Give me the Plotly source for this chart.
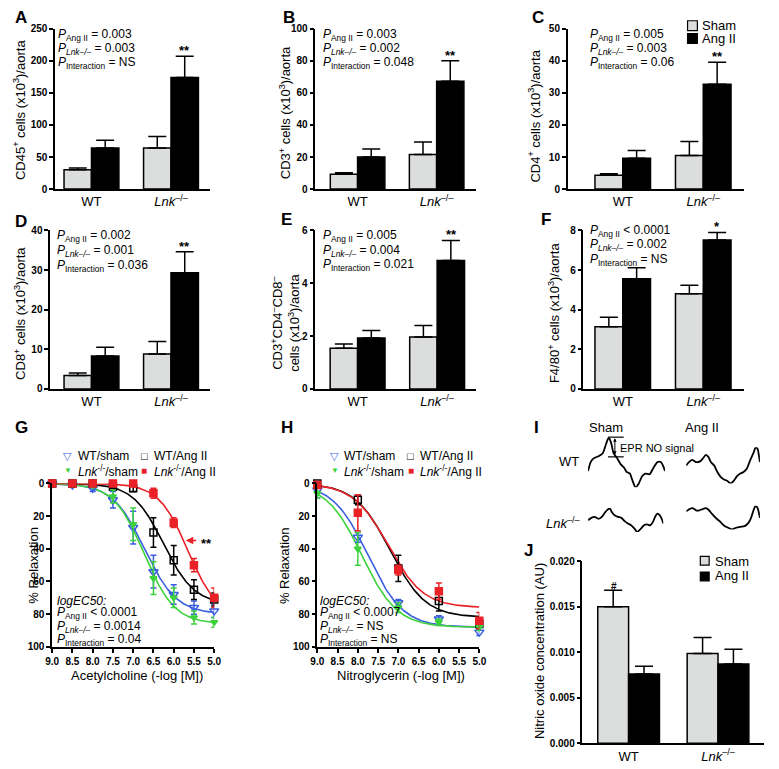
import numpy as np
import plotly.graph_objects as go

# ---------------- DATA ----------------
groups = ["WT", "Lnk"]
group_labels = ["WT", "<i>Lnk</i><sup>–/–</sup>"]

A_sham = [30, 64];      A_sham_err = [3, 18]
A_ang = [64, 174];      A_ang_err = [12, 33]
B_sham = [9.2, 21.5];   B_sham_err = [1.0, 7.8]
B_ang = [20, 67.2];     B_ang_err = [5, 12.8]
C_sham = [4.3, 10.5];   C_sham_err = [0.5, 4.3]
C_ang = [9.6, 32.7];    C_ang_err = [2.4, 6.8]
D_sham = [3.4, 8.8];    D_sham_err = [0.6, 3.2]
D_ang = [8.3, 29.3];    D_ang_err = [2.2, 5.3]
E_sham = [1.54, 1.97];  E_sham_err = [0.16, 0.43]
E_ang = [1.93, 4.86];   E_ang_err = [0.28, 0.76]
F_sham = [3.14, 4.8];   F_sham_err = [0.48, 0.43]
F_ang = [5.56, 7.52];   F_ang_err = [0.56, 0.38]
J_sham = [0.0150, 0.00986]; J_sham_err = [0.0018, 0.00176]
J_ang = [0.00762, 0.0087];  J_ang_err = [0.00083, 0.00162]

G_dose = [9.0, 8.5, 8.0, 7.5, 7.0, 6.5, 6.0, 5.5, 5.0]
G_wt_sham = [0, 1, 3, 10, 27, 54, 68, 76, 78]
G_wt_sham_err = [0, 1, 2, 5, 10, 10, 6, 4, 4]
G_lnk_sham = [0, 0, 1, 8, 25, 58, 70, 82, 85]
G_lnk_sham_err = [0, 0, 1, 4, 10, 10, 6, 4, 3]
G_wt_ang = [0, 0, 0, 2, 3, 30, 47, 65, 71]
G_wt_ang_err = [0, 0, 0, 1, 2, 9, 9, 6, 4]
G_lnk_ang = [0, 0, 0, 0, 0, 6, 24, 50, 70]
G_lnk_ang_err = [0, 0, 0, 0, 1, 3, 3, 4, 6]
# fitted sigmoid parameters: (Emax, -logEC50, hill)
G_fit_wt_sham = (80, 6.72, 1.1)
G_fit_lnk_sham = (86, 6.73, 1.15)
G_fit_wt_ang = (74, 6.25, 1.15)
G_fit_lnk_ang = (82, 5.65, 1.2)

H_dose = [9.0, 8.0, 7.0, 6.0, 5.0]
H_wt_sham = [4, 33, 73, 83, 91];   H_wt_sham_err = [5, 3, 2, 2, 2]
H_lnk_sham = [6, 40, 76, 85, 88];  H_lnk_sham_err = [3, 10, 3, 2, 2]
H_wt_ang = [0, 10, 52, 72, 86];    H_wt_ang_err = [1, 3, 8, 6, 3]
H_lnk_ang = [1, 18, 53, 66, 84];   H_lnk_ang_err = [1, 11, 3, 5, 5]
H_fit_wt_sham = (88, 7.75, 1.0)
H_fit_lnk_sham = (88, 7.9, 1.0)
H_fit_wt_ang = (82, 7.2, 1.0)
H_fit_lnk_ang = (76, 7.25, 1.0)

dose_ticks = [9.0, 8.5, 8.0, 7.5, 7.0, 6.5, 6.0, 5.5, 5.0]

# EPR spectra (field, signal) estimated
I_wt_sham_f = [0, 8, 18, 32, 45, 55, 63, 70, 78, 88, 100, 110, 118, 128, 136, 145, 155, 165, 175, 188, 200, 212, 222, 230, 235]
I_wt_sham_s = [68, 95, 107, 113, 122, 150, 170, 155, 122, 108, 88, 78, 65, 60, 38, 18, 30, 52, 60, 58, 78, 95, 95, 82, 68]
I_wt_ang_f = [0, 8, 18, 30, 42, 50, 60, 68, 75, 85, 95, 105, 115, 125, 135, 145, 155, 165, 175, 185, 195, 205, 212, 218, 222, 225]
I_wt_ang_s = [85, 95, 102, 95, 97, 105, 117, 110, 95, 85, 65, 50, 42, 38, 30, 38, 52, 60, 65, 75, 100, 122, 140, 135, 115, 95]
I_lnk_sham_f = [0, 10, 20, 32, 42, 52, 60, 66, 73, 82, 92, 102, 112, 122, 132, 142, 150, 160, 170, 180, 190, 198, 206, 212, 220, 226, 230]
I_lnk_sham_s = [68, 75, 78, 72, 78, 92, 100, 105, 92, 82, 78, 75, 65, 58, 52, 42, 32, 40, 52, 55, 52, 62, 80, 88, 82, 70, 58]
I_lnk_ang_f = [0, 10, 20, 30, 40, 50, 60, 68, 78, 90, 102, 115, 128, 140, 152, 165, 178, 190, 198, 206, 212, 218, 222, 225]
I_lnk_ang_s = [95, 102, 105, 98, 98, 102, 105, 100, 88, 75, 65, 52, 45, 40, 45, 48, 50, 60, 75, 100, 112, 105, 90, 75]

# ---------------- STYLE ----------------
W, H = 779, 769
FONT = "Liberation Sans, Arial, sans-serif"
SHAM_C = "#dcdede"
BLUE = "#3a5ee0"
GREEN = "#3cd23c"
RED = "#ea2227"


def fx(p):
    return p / W


def fy(p):
    return 1 - p / H


fig = go.Figure()
layout = {}
annotations = []
shapes = []


def ann(text, x, y, size=13, xanchor="center", yanchor="middle", angle=0,
        bold=False, color="black", **kw):
    annotations.append(dict(
        text=text, x=fx(x), y=fy(y), xref="paper", yref="paper",
        xanchor=xanchor, yanchor=yanchor, showarrow=False, textangle=angle,
        font=dict(family=FONT, size=size, color=color,
                  weight="bold" if bold else "normal"), **kw))


def ax_key(i, k):
    return k + ("" if i == 1 else str(i))


def bar_panel(i, yx, xend, ytop, ybot, xrange, yrange, dtick, sham, sham_err,
              ang, ang_err, tickformat=None):
    xa, ya = ax_key(i, "xaxis"), ax_key(i, "yaxis")
    xr, yr = ax_key(i, "x"), ax_key(i, "y")
    fig.add_trace(go.Bar(
        x=groups, y=sham, xaxis=xr, yaxis=yr, name="Sham", showlegend=False,
        marker=dict(color=SHAM_C, line=dict(color="black", width=1.5)),
        error_y=dict(type="data", array=sham_err, arrayminus=[0, 0], symmetric=False,
                     color="black", thickness=1.5, width=9),
        offsetgroup="s"))
    fig.add_trace(go.Bar(
        x=groups, y=ang, xaxis=xr, yaxis=yr, name="Ang II", showlegend=False,
        marker=dict(color="black", line=dict(color="black", width=1.5)),
        error_y=dict(type="data", array=ang_err, arrayminus=[0, 0], symmetric=False,
                     color="black", thickness=1.5, width=9),
        offsetgroup="a"))
    layout[xa] = dict(domain=[fx(yx), fx(xend)], anchor=yr, type="category",
                      categoryorder="array", categoryarray=groups,
                      range=xrange, tickvals=groups, ticktext=group_labels,
                      showline=True, linecolor="black", linewidth=1.5, ticks="",
                      showgrid=False, zeroline=False,
                      tickfont=dict(family=FONT, size=13, color="black"))
    ytk = dict(domain=[fy(ybot), fy(ytop)], anchor=xr, range=yrange, dtick=dtick,
               tick0=0, showline=True, linecolor="black", linewidth=1.5,
               ticks="outside", ticklen=4, tickwidth=1.5, tickcolor="black",
               showgrid=False, zeroline=False,
               tickfont=dict(family=FONT, size=10, color="black", weight="bold"))
    if tickformat:
        ytk["tickformat"] = tickformat
    layout[ya] = ytk
    return xr, yr


def star(xr, yr, cat, yval, text, shift_px, size=13):
    annotations.append(dict(text=text, x=cat, y=yval, xref=xr, yref=yr,
                            xshift=shift_px, yshift=-4, yanchor="bottom",
                            showarrow=False,
                            font=dict(family=FONT, size=size, color="black", weight="bold")))


def stats(x, ys, lines, size=12):
    for yy, t in zip(ys, lines):
        ann(t, x, yy + 2, size=size, xanchor="left")


P_ANG = "<i>P</i><sub>Ang II</sub>"
P_LNK = "<i>P</i><sub><i>Lnk–/–</i></sub>"
P_INT = "<i>P</i><sub>Interaction</sub>"

# A
xr, yr = bar_panel(1, 49, 207, 23, 186, [-0.457, 1.494], [0, 250], 50,
                   A_sham, A_sham_err, A_ang, A_ang_err)
star(xr, yr, "Lnk", A_ang[1] + A_ang_err[1], "**", 14)
stats(50, [27.5, 42, 56], [P_ANG + " = 0.003", P_LNK + " = 0.003", P_INT + " = NS"])
ann("CD45<sup>+</sup> cells (x10<sup>3</sup>)/aorta", 13, 106, angle=-90)
ann("A", 14, 12, size=17, bold=True)

# B
xr, yr = bar_panel(2, 314, 478, 23, 186, [-0.534, 1.503], [0, 100], 20,
                   B_sham, B_sham_err, B_ang, B_ang_err)
star(xr, yr, "Lnk", B_ang[1] + B_ang_err[1], "**", 14)
stats(320, [27.5, 42, 56], [P_ANG + " = 0.003", P_LNK + " = 0.002", P_INT + " = 0.048"])
ann("CD3<sup>+</sup> cells (x10<sup>3</sup>)/aorta", 283, 108, angle=-90)
ann("B", 287, 12, size=17, bold=True)

# C
xr, yr = bar_panel(3, 571, 750, 23, 186, [-0.683, 1.5], [0, 50], 10,
                   C_sham, C_sham_err, C_ang, C_ang_err)
star(xr, yr, "Lnk", C_ang[1] + C_ang_err[1], "**", 14)
stats(592, [27.5, 42, 56], [P_ANG + " = 0.005", P_LNK + " = 0.003", P_INT + " = 0.06"])
ann("CD4<sup>+</sup> cells (x10<sup>3</sup>)/aorta", 537, 112, angle=-90)
ann("C", 541, 12, size=17, bold=True)
shapes.append(dict(type="rect", xref="paper", yref="paper", x0=fx(693), x1=fx(703),
                   y0=fy(25), y1=fy(15), fillcolor=SHAM_C, line=dict(color="black", width=1.2)))
shapes.append(dict(type="rect", xref="paper", yref="paper", x0=fx(693), x1=fx(703),
                   y0=fy(38), y1=fy(28), fillcolor="black", line=dict(color="black", width=1.2)))
ann("Sham", 706, 20, xanchor="left")
ann("Ang II", 706, 33, xanchor="left")

# D
xr, yr = bar_panel(4, 44, 207, 228, 389, [-0.519, 1.494], [0, 40], 10,
                   D_sham, D_sham_err, D_ang, D_ang_err)
star(xr, yr, "Lnk", D_ang[1] + D_ang_err[1], "**", 14)
stats(49, [232, 247, 262], [P_ANG + " = 0.002", P_LNK + " = 0.001", P_INT + " = 0.036"])
ann("CD8<sup>+</sup> cells (x10<sup>3</sup>)/aorta", 13, 312, angle=-90)
ann("D", 14, 219, size=17, bold=True)

# E
xr, yr = bar_panel(5, 314, 478, 228, 389, [-0.531, 1.494], [0, 6], 2,
                   E_sham, E_sham_err, E_ang, E_ang_err)
star(xr, yr, "Lnk", E_ang[1] + E_ang_err[1], "**", 14)
stats(320, [232, 247, 261], [P_ANG + " = 0.005", P_LNK + " = 0.004", P_INT + " = 0.021"])
ann("CD3<sup>+</sup>CD4<sup>–</sup>CD8<sup>–</sup><br>cells (x10<sup>3</sup>)/aorta",
    284, 322, angle=-90)
ann("E", 285, 217, size=17, bold=True)

# F
xr, yr = bar_panel(6, 587, 750, 228, 389, [-0.488, 1.5], [0, 8], 2,
                   F_sham, F_sham_err, F_ang, F_ang_err)
star(xr, yr, "Lnk", F_ang[1] + F_ang_err[1], "*", 14)
stats(592, [227, 241, 256], [P_ANG + " &lt; 0.0001", P_LNK + " = 0.002", P_INT + " = NS"])
ann("F4/80<sup>+</sup> cells (x10<sup>3</sup>)/aorta", 557, 312, angle=-90)
ann("F", 549, 217, size=17, bold=True)

# J
xr, yr = bar_panel(9, 586, 771, 564, 749, [-0.516, 1.516], [0, 0.020], 0.005,
                   J_sham, J_sham_err, J_ang, J_ang_err, tickformat=".3f")
star(xr, yr, "WT", J_sham[0] + J_sham_err[0], "#", -15, size=10)
ann("Nitric oxide concentration (AU)", 543, 655, angle=-90)
ann("J", 531, 553, size=17, bold=True)
shapes.append(dict(type="rect", xref="paper", yref="paper", x0=fx(706), x1=fx(715),
                   y0=fy(568), y1=fy(559), fillcolor=SHAM_C, line=dict(color="black", width=1.2)))
shapes.append(dict(type="rect", xref="paper", yref="paper", x0=fx(706), x1=fx(715),
                   y0=fy(584), y1=fy(575), fillcolor="black", line=dict(color="black", width=1.2)))
ann("Sham", 719, 564, xanchor="left")
ann("Ang II", 719, 579, xanchor="left")


# ---------------- G / H dose response ----------------
def sigmoid(xs, p):
    emax, x50, h = p
    return emax / (1 + 10 ** (h * (xs - x50)))


def dose_panel(i, x0, x1, dose, series, fits):
    xr, yr = ax_key(i, "x"), ax_key(i, "y")
    xs = np.linspace(9.0, 5.0, 200)
    for (vals, errs, color, symbol, size), p in zip(series, fits):
        fig.add_trace(go.Scatter(x=xs, y=sigmoid(xs, p), mode="lines", xaxis=xr, yaxis=yr,
                                 line=dict(color=color, width=1.6), showlegend=False,
                                 hoverinfo="skip"))
    for vals, errs, color, symbol, size in series:
        fig.add_trace(go.Scatter(
            x=dose, y=vals, mode="markers", xaxis=xr, yaxis=yr, showlegend=False,
            cliponaxis=False,
            marker=dict(symbol=symbol, size=size, color=color,
                        line=dict(color=color, width=1.5)),
            error_y=dict(type="data", array=errs, color=color, thickness=1.5, width=3)))
    layout[ax_key(i, "xaxis")] = dict(
        domain=[fx(x0), fx(x1)], anchor=yr, range=[9.0, 5.0],
        tickvals=dose_ticks, tickformat=".1f",
        showline=True, linecolor="black", linewidth=1.5,
        ticks="outside", ticklen=4, tickwidth=1.5, tickcolor="black",
        showgrid=False, zeroline=False,
        tickfont=dict(family=FONT, size=10, color="black", weight="bold"))
    layout[ax_key(i, "yaxis")] = dict(
        domain=[fy(651), fy(485)], anchor=xr, range=[100, 0], dtick=20, tick0=0,
        showline=True, linecolor="black", linewidth=1.5,
        ticks="outside", ticklen=4, tickwidth=1.5, tickcolor="black",
        showgrid=False, zeroline=False,
        tickfont=dict(family=FONT, size=10, color="black", weight="bold"))


dose_panel(7, 46, 211, G_dose,
           [(G_wt_sham, G_wt_sham_err, BLUE, "triangle-down-open", 8),
            (G_wt_ang, G_wt_ang_err, "black", "square-open", 7),
            (G_lnk_sham, G_lnk_sham_err, GREEN, "triangle-down", 6),
            (G_lnk_ang, G_lnk_ang_err, RED, "square", 7)],
           [G_fit_wt_sham, G_fit_wt_ang, G_fit_lnk_sham, G_fit_lnk_ang])
dose_panel(8, 316, 481, H_dose,
           [(H_wt_sham, H_wt_sham_err, BLUE, "triangle-down-open", 8),
            (H_wt_ang, H_wt_ang_err, "black", "square-open", 7),
            (H_lnk_sham, H_lnk_sham_err, GREEN, "triangle-down", 6),
            (H_lnk_ang, H_lnk_ang_err, RED, "square", 7)],
           [H_fit_wt_sham, H_fit_wt_ang, H_fit_lnk_sham, H_fit_lnk_ang])

LNK = "<i>Lnk</i><sup>–/–</sup>"
LNK_S = "<i>Lnk</i><sup>-/-</sup>"
for (mx1, tx1, mx2, tx2) in [(62, 70, 140, 148), (334, 341, 411, 419)]:
    ann("▽", mx1, 457, size=11, color=BLUE)
    ann("WT/sham", tx1, 457, xanchor="left", size=12)
    ann("□", mx2, 457, size=11, color="black")
    ann("WT/Ang II", tx2, 457, xanchor="left", size=12)
    ann("▼", mx1, 472, size=8, color=GREEN)
    ann(LNK_S + "/sham", tx1, 472, xanchor="left", size=12)
    ann("■", mx2, 472, size=10, color=RED)
    ann(LNK_S + "/Ang II", tx2, 472, xanchor="left", size=12)

ann("G", 15, 428, size=17, bold=True)
ann("H", 285, 428, size=17, bold=True)
ann("% Relaxation", 27, 568, angle=-90)
ann("% Relaxation", 282, 568, angle=-90)
ann("Acetylcholine (-log [M])", 132, 680)
ann("Nitroglycerin (-log [M])", 401, 680)
stats(49, [602, 615, 629, 642],
      ["<i>logEC50:</i>", P_ANG + " &lt; 0.0001", P_LNK + " = 0.0014", P_INT + " = 0.04"])
stats(317, [602, 615, 629, 642],
      ["<i>logEC50:</i>", P_ANG + " &lt; 0.0007", P_LNK + " = NS", P_INT + " = NS"])
# red arrow + ** in G
annotations.append(dict(x=fx(182), y=fy(543), xref="paper", yref="paper", ax=12, ay=0,
                        text="", showarrow=True, arrowhead=2, arrowsize=1, arrowwidth=1.5,
                        arrowcolor=RED))
ann("**", 203, 546, size=13, bold=True)

# ---------------- I : EPR spectra ----------------
spectra = [
    (10, I_wt_sham_f, I_wt_sham_s, (591.7, 670), (438.3, 489)),
    (11, I_wt_ang_f, I_wt_ang_s, (691.7, 766.7), (448.3, 485)),
    (12, I_lnk_sham_f, I_lnk_sham_s, (591.7, 668.3), (510, 534.3)),
    (13, I_lnk_ang_f, I_lnk_ang_s, (691.7, 766.7), (507.7, 531.7)),
]
for i, f, s, (px0, px1), (py0, py1) in spectra:
    xr, yr = ax_key(i, "x"), ax_key(i, "y")
    fig.add_trace(go.Scatter(x=f, y=s, mode="lines", xaxis=xr, yaxis=yr, showlegend=False,
                             line=dict(color="black", width=1.8, shape="spline", smoothing=0.6),
                             cliponaxis=False, hoverinfo="skip"))
    hidden = dict(showline=False, showticklabels=False, showgrid=False, zeroline=False,
                  ticks="")
    layout[ax_key(i, "xaxis")] = dict(domain=[fx(px0), fx(px1)], anchor=yr,
                                      range=[min(f), max(f)], **hidden)
    layout[ax_key(i, "yaxis")] = dict(domain=[fy(py1), fy(py0)], anchor=xr,
                                      range=[min(s), max(s)], **hidden)

ann("I", 539, 428, size=17, bold=True)
ann("Sham", 610, 428)
ann("Ang II", 708, 428)
ann("WT", 585, 463, xanchor="right")
ann(LNK, 587, 525, xanchor="right")
ann("EPR NO signal", 622, 449, size=11, xanchor="left")
for yy in (438, 458):
    shapes.append(dict(type="line", xref="paper", yref="paper", x0=fx(612), x1=fx(628),
                       y0=fy(yy), y1=fy(yy), line=dict(color="black", width=1.2)))
annotations.append(dict(x=fx(619), y=fy(439), xref="paper", yref="paper", ax=0, ay=18,
                        text="", showarrow=True, arrowhead=2, arrowside="end+start",
                        arrowsize=0.7, arrowwidth=1, arrowcolor="black"))

fig.update_layout(
    width=W, height=H, margin=dict(l=0, r=0, t=0, b=0),
    plot_bgcolor="white", paper_bgcolor="white",
    barmode="group", bargap=0.31, bargroupgap=0,
    font=dict(family=FONT, color="black"),
    annotations=annotations, shapes=shapes, showlegend=False,
    **layout)

fig.write_html("out.html", config={"displayModeBar": False},
               post_script="document.body.style.margin='0';document.body.style.padding='0';"
                           "document.documentElement.style.overflow='hidden';")
